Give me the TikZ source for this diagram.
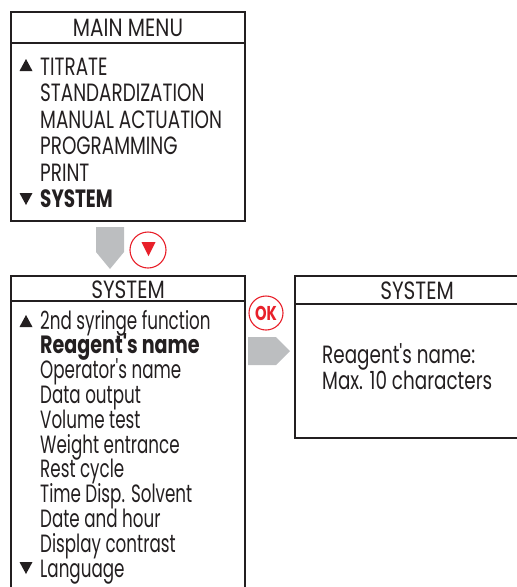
\documentclass[tikz,border=0pt]{standalone}
\usepackage{fontspec}
\setmainfont[FakeStretch=0.735,Ligatures=TeXOff]{Poppins}
\newfontfamily\listfont[FakeStretch=0.67,Ligatures=TeXOff]{Poppins}
\newfontfamily\listbold[FakeStretch=0.765,Ligatures=TeXOff]{Poppins Bold}
\newfontfamily\titlefont[FakeStretch=0.8,Ligatures=TeXOff]{Poppins}
\definecolor{ink}{HTML}{231F20}
\definecolor{arrowgray}{HTML}{BCBEC0}
\definecolor{keyred}{HTML}{E8202A}
\begin{document}
\begin{tikzpicture}[x=1pt,y=-1pt,
  frame/.style={draw=ink,line width=1.8pt},
  item/.style={anchor=base west,inner sep=0pt,text=ink,font=\fontsize{25}{25}\selectfont},
  sysitem/.style={anchor=base west,inner sep=0pt,text=ink,font=\listfont\fontsize{25}{25}\selectfont},
  title/.style={anchor=base,inner sep=0pt,text=ink,font=\titlefont\fontsize{25}{25}\selectfont},
  scrollmark/.style={fill=ink},
  stepper/.style={fill=arrowgray},
  keyring/.style={draw=keyred,line width=1.1pt,fill=white}]
\useasboundingbox (0,0) rectangle (517,587);
% main menu box
\draw[frame] (11,12) rectangle (245,221);
\draw[frame] (11,43) -- (245,43);
\node[title] (mmtitle) at (128,36) {MAIN MENU};
\fill[scrollmark] (19.5,71) -- (32.5,71) -- (26,59) -- cycle;
\node[item] (m1) at (40,75) {TITRATE};
\node[item] (m2) at (40,101.5) {STANDARDIZATION};
\node[item] (m3) at (40,128) {MANUAL ACTUATION};
\node[item] (m4) at (40,154.5) {PROGRAMMING};
\node[item] (m5) at (40,181) {PRINT};
\fill[scrollmark] (19.5,193) -- (32.5,193) -- (26,205) -- cycle;
\node[item] (m6) at (40,207.5) {\bfseries SYSTEM};
% down arrow and key
\fill[stepper] (96,227) -- (124,227) -- (124,252) -- (110,269) -- (96,252) -- cycle;
\draw[keyring] (148,250) circle (18);
\fill[keyred] (141.5,242) -- (155.5,242) -- (148.5,256) -- cycle;
% system box
\draw[frame] (11,588) -- (11,276) -- (245,276) -- (245,588);
\draw[frame] (11,301) -- (245,301);
\node[title] (systitle) at (128,298) {SYSTEM};
\fill[scrollmark] (19.5,327) -- (32.5,327) -- (26,315) -- cycle;
\node[sysitem] (s1) at (40,329) {2nd syringe function};
\node[sysitem] (s2) at (40,353.8) {\listbold Reagent's name};
\node[sysitem] (s3) at (40,378.6) {Operator's name};
\node[sysitem] (s4) at (40,403.4) {Data output};
\node[sysitem] (s5) at (40,428.2) {Volume test};
\node[sysitem] (s6) at (40,453) {Weight entrance};
\node[sysitem] (s7) at (40,477.8) {Rest cycle};
\node[sysitem] (s8) at (40,502.6) {Time Disp. Solvent};
\node[sysitem] (s9) at (40,527.4) {Date and hour};
\node[sysitem] (s10) at (40,552.2) {Display contrast};
\fill[scrollmark] (19.5,562) -- (32.5,562) -- (26,574) -- cycle;
\node[sysitem] (s11) at (40,577) {Language};
% OK key and right arrow
\draw[keyring] (266,313) circle (17);
\node[inner sep=0pt,text=keyred,font=\fontsize{20}{20}\selectfont\bfseries] (ok) at (266,313) {OK};
\fill[stepper] (248,337) -- (276,337) -- (290,351) -- (276,365) -- (248,365) -- cycle;
% right box
\draw[frame] (518,276) -- (295,276) -- (295,438) -- (518,438);
\draw[frame] (295,304) -- (518,304);
\node[title] (rtitle) at (417,299) {SYSTEM};
\node[item] (r1) at (322,363) {Reagent's name:};
\node[item] (r2) at (322,389) {Max. 10 characters};
\end{tikzpicture}
\end{document}
